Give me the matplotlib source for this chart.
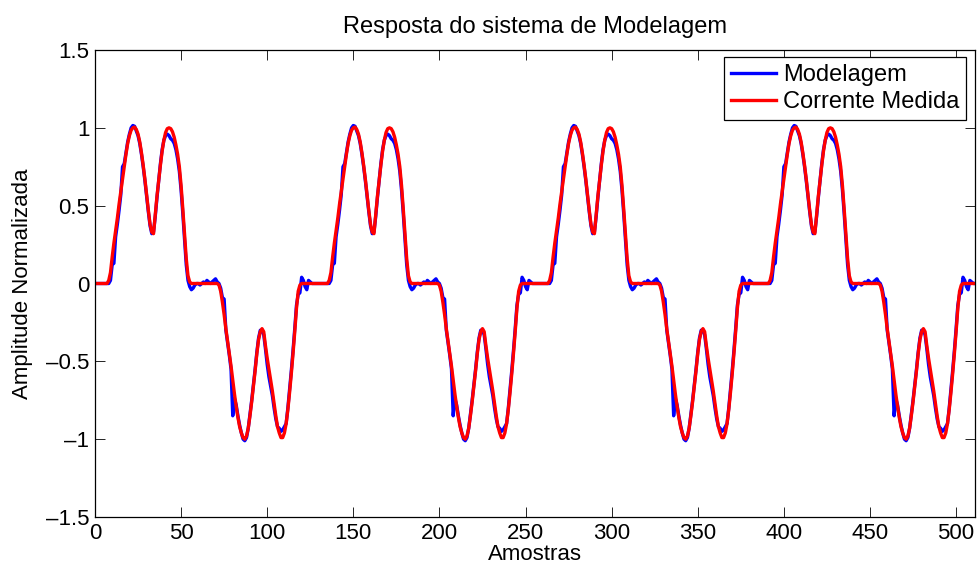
import numpy as np
import matplotlib
matplotlib.use("Agg")
from matplotlib import pyplot as plt

plt.rcParams['font.family'] = ['Liberation Sans', 'DejaVu Sans']

# one period (128 samples); the signal repeats 4 times
corrente_periodo = [
    0, 0, 0, 0, 0, 0, 0, 0, 0.02, 0.07,
    0.17, 0.26, 0.34, 0.42, 0.51, 0.59, 0.67, 0.75, 0.83, 0.90,
    0.95, 0.985, 1.0, 1.005, 0.99, 0.96, 0.91, 0.84, 0.76, 0.67,
    0.57, 0.47, 0.38, 0.33, 0.32, 0.44, 0.56, 0.66, 0.76, 0.85,
    0.92, 0.97, 0.995, 1.0, 0.995, 0.975, 0.94, 0.89, 0.83, 0.75,
    0.63, 0.48, 0.32, 0.16, 0.05, 0.01, 0, 0, 0, 0,
    0, 0, 0, 0, 0, 0, 0, 0, 0, 0,
    0, 0, -0.01, -0.05, -0.12, -0.20, -0.29, -0.37, -0.45, -0.53,
    -0.62, -0.71, -0.79, -0.86, -0.92, -0.96, -0.99, -1.0, -0.98, -0.93,
    -0.85, -0.76, -0.66, -0.56, -0.45, -0.36, -0.31, -0.29, -0.31, -0.40,
    -0.48, -0.55, -0.62, -0.69, -0.77, -0.85, -0.92, -0.96, -0.99, -0.99,
    -0.96, -0.90, -0.81, -0.70, -0.58, -0.45, -0.31, -0.16, -0.05, -0.01,
    0, 0, 0, 0, 0, 0, 0, 0,
]

modelagem_periodo = [
    0, 0, 0, 0, 0, 0, 0, 0, 0.0, 0.02,
    0.12, 0.13, 0.30, 0.38, 0.47, 0.57, 0.75, 0.77, 0.84, 0.91,
    0.96, 1.0, 1.015, 1.01, 0.98, 0.95, 0.90, 0.83, 0.75, 0.66,
    0.56, 0.46, 0.37, 0.32, 0.33, 0.43, 0.55, 0.66, 0.77, 0.86,
    0.92, 0.95, 0.96, 0.95, 0.93, 0.92, 0.90, 0.86, 0.80, 0.72,
    0.60, 0.45, 0.28, 0.12, 0.02, -0.02, -0.04, -0.03, -0.01, 0.0,
    0.0, -0.01, 0.0, 0.01, 0.0, 0.02, 0.01, 0.0, 0.01, 0.02,
    0.03, 0.01, 0.0, -0.03, -0.09, -0.10, -0.30, -0.38, -0.46, -0.55,
    -0.85, -0.74, -0.78, -0.85, -0.91, -0.96, -1.0, -1.01, -0.99, -0.93,
    -0.84, -0.75, -0.65, -0.55, -0.44, -0.35, -0.30, -0.30, -0.33, -0.42,
    -0.52, -0.60, -0.66, -0.72, -0.80, -0.87, -0.92, -0.93, -0.95, -0.94,
    -0.92, -0.90, -0.80, -0.68, -0.56, -0.43, -0.29, -0.14, -0.07, -0.06,
    0.04, 0.02, -0.02, -0.04, 0.02, 0.01, 0.0, 0.0,
]

n_periodos = 4
corrente = np.tile(corrente_periodo, n_periodos)
modelagem = np.tile(modelagem_periodo, n_periodos)
amostras = np.arange(len(corrente))

fig = plt.figure(figsize=(9.77, 5.67), dpi=100)
ax = fig.add_axes([0.0972, 0.0882, 0.9008, 0.8236])

ax.plot(amostras, modelagem, color='#0000ff', linewidth=2.4, label='Modelagem')
ax.plot(amostras, corrente, color='#ff0000', linewidth=2.4, label='Corrente Medida')

ax.set_xlim(0, 511)
ax.set_ylim(-1.5, 1.5)
ax.set_xticks(np.arange(0, 501, 50))
ax.set_yticks([-1.5, -1, -0.5, 0, 0.5, 1, 1.5])
ax.set_yticklabels(['\u20131.5', '\u20131', '\u20130.5', '0', '0.5', '1', '1.5'])

ax.tick_params(direction='in', top=True, right=True, length=7, width=0.6,
               labelsize=16)
ax.tick_params(axis='x', pad=4)
ax.tick_params(axis='y', pad=4)
for s in ax.spines.values():
    s.set_linewidth(0.9)

ax.set_title('Resposta do sistema de Modelagem', fontsize=17, pad=12)
ax.set_xlabel('Amostras', fontsize=16, labelpad=0.5)
ax.set_ylabel('Amplitude Normalizada', fontsize=16, labelpad=9)

leg = ax.legend(loc='upper right', bbox_to_anchor=(0.99, 0.985), borderaxespad=0,
                fontsize=17, fancybox=False, framealpha=1, edgecolor='black',
                handlelength=1.9, handletextpad=0.3, borderpad=0.3,
                labelspacing=0.2)
leg.get_frame().set_linewidth(0.9)

fig.savefig('out.png', dpi=100)
